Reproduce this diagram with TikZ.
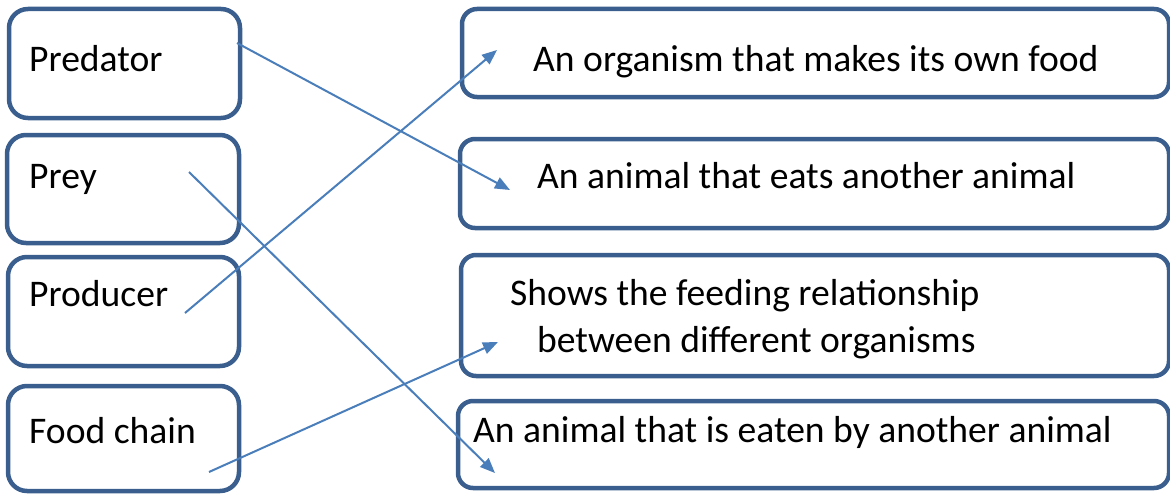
\documentclass[tikz,border=0pt]{standalone}
\usepackage{fontspec}
\setmainfont{Carlito}
\usetikzlibrary{arrows.meta}
\definecolor{boxblue}{HTML}{3A5F8E}
\definecolor{linkblue}{HTML}{4A7EBB}
\tikzset{
  card/.style={draw=boxblue, line width=4.5pt, rounded corners=19pt, fill=none, inner sep=0pt},
  rcard/.style={draw=boxblue, line width=4.5pt, rounded corners=15pt, fill=none, inner sep=0pt},
  lbl/.style={anchor=base west, inner sep=0pt, font=\fontsize{37.6}{45}\selectfont},
  link/.style={draw=linkblue, line width=2pt, -{Triangle[length=15pt,width=12pt]}}
}
\begin{document}
\begin{tikzpicture}[x=1pt,y=-1pt]
\useasboundingbox (0,0) rectangle (1170,495);
% left boxes
\node[card, minimum width=231pt, minimum height=109pt] (b1) at (124.5,63.5) {};
\node[card, minimum width=232pt, minimum height=108pt] (b2) at (123,189) {};
\node[card, minimum width=231pt, minimum height=109pt] (b3) at (123.5,311.5) {};
\node[card, minimum width=231pt, minimum height=105pt] (b4) at (123.5,438.5) {};
% right boxes
\node[rcard, minimum width=707pt, minimum height=88pt] (r1) at (815.5,53) {};
\node[rcard, minimum width=709pt, minimum height=89pt] (r2) at (814.5,183.5) {};
\node[rcard, minimum width=708pt, minimum height=121pt] (r3) at (815,315.5) {};
\node[rcard, minimum width=711pt, minimum height=87pt] (r4) at (813.5,444.5) {};
% texts
\node[lbl] (t1) at (29,71) {Predator};
\node[lbl] (t2) at (29,188) {Prey};
\node[lbl] (t3) at (29,306) {Producer};
\node[lbl] (t4) at (29,443) {Food chain};
\node[lbl] (u1) at (533,71) {An organism that makes its own food};
\node[lbl] (u2) at (537,188) {An animal that eats another animal};
\node[lbl] (u3a) at (510,305) {Shows the feeding relationship};
\node[lbl] (u3b) at (537,352) {between different organisms};
\node[lbl] (u4) at (473,442) {An animal that is eaten by another animal};
% connector ends
\coordinate (s1) at (237,43);
\coordinate (e1) at (510,190);
\coordinate (s2) at (189,172);
\coordinate (e2) at (495,473);
\coordinate (s3) at (185,313);
\coordinate (e3) at (497,50);
\coordinate (s4) at (209,472);
\coordinate (e4) at (498,342);
\draw[link] (s1) -- (e1);
\draw[link] (s2) -- (e2);
\draw[link] (s3) -- (e3);
\draw[link] (s4) -- (e4);
\end{tikzpicture}
\end{document}
